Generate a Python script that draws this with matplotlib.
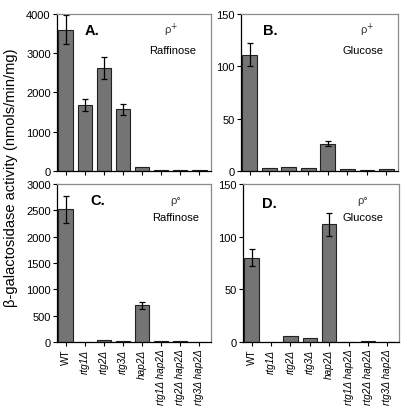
import matplotlib
matplotlib.use("Agg")
import matplotlib.pyplot as plt
import numpy as np

plt.rcParams['font.family'] = ['Liberation Sans', 'DejaVu Sans']

strains = ["WT", "rtg1Δ", "rtg2Δ", "rtg3Δ", "hap2Δ", "rtg1Δ hap2Δ", "rtg2Δ hap2Δ", "rtg3Δ hap2Δ"]

a_vals = [3600, 1680, 2630, 1570, 100, 10, 10, 10]
a_err = [370, 150, 280, 140, 0, 0, 0, 0]
b_vals = [111, 3, 4, 3, 26, 2, 0.6, 1.5]
b_err = [11, 0, 0, 0, 2.5, 0, 0, 0]
c_vals = [2520, 5, 40, 20, 700, 20, 20, 10]
c_err = [250, 0, 0, 0, 70, 0, 0, 0]
d_vals = [80, 0.6, 6, 4, 112, 0.6, 1.2, 0.6]
d_err = [8, 0, 0, 0, 11, 0, 0, 0]

panels = [
    dict(vals=a_vals, err=a_err, ymax=4000, yticks=[0, 1000, 2000, 3000, 4000], letter="A.", rho="ρ$^{+}$", sugar="Raffinose",
         rect=[0.140, 0.585, 0.378, 0.379], lpos=(0.18, 0.90), rpos=(0.74, 0.90), spos=(0.75, 0.77), xl=False),
    dict(vals=b_vals, err=b_err, ymax=150, yticks=[0, 50, 100, 150], letter="B.", rho="ρ$^{+}$", sugar="Glucose",
         rect=[0.592, 0.585, 0.386, 0.379], lpos=(0.14, 0.90), rpos=(0.80, 0.90), spos=(0.78, 0.77), xl=False),
    dict(vals=c_vals, err=c_err, ymax=3000, yticks=[0, 500, 1000, 1500, 2000, 2500, 3000], letter="C.", rho="ρ°", sugar="Raffinose",
         rect=[0.140, 0.171, 0.378, 0.382], lpos=(0.22, 0.90), rpos=(0.77, 0.90), spos=(0.77, 0.79), xl=True),
    dict(vals=d_vals, err=d_err, ymax=150, yticks=[0, 50, 100, 150], letter="D.", rho="ρ°", sugar="Glucose",
         rect=[0.597, 0.171, 0.383, 0.382], lpos=(0.12, 0.88), rpos=(0.77, 0.90), spos=(0.77, 0.79), xl=True),
]

fig = plt.figure(figsize=(4.07, 4.14), dpi=100)
x = np.arange(len(strains))
for p in panels:
    ax = fig.add_axes(p["rect"])
    err = np.array(p["err"], dtype=float)
    ax.bar(x, p["vals"], width=0.75, color="#747474", edgecolor="#222222", linewidth=0.8)
    idx = err > 0
    ax.errorbar(x[idx], np.array(p["vals"])[idx], yerr=err[idx], fmt="none", ecolor="black",
                elinewidth=0.9, capsize=2.5, capthick=0.9)
    ax.set_xlim(-0.45, 7.6)
    ax.set_ylim(0, p["ymax"])
    ax.set_yticks(p["yticks"])
    ax.set_xticks(x)
    ax.tick_params(axis="both", direction="out", length=3, width=0.8, labelsize=8, pad=1.5)
    for s in ["top", "right"]:
        ax.spines[s].set_color("#8a8a8a")
        ax.spines[s].set_linewidth(0.9)
    for s in ["left", "bottom"]:
        ax.spines[s].set_linewidth(0.9)
    if p["xl"]:
        ax.set_xticklabels(strains, rotation=90, fontsize=7.2)
        for i, t in enumerate(ax.get_xticklabels()):
            if i > 0:
                t.set_style("italic")
    else:
        ax.set_xticklabels([])
    ax.text(p["lpos"][0], p["lpos"][1], p["letter"], transform=ax.transAxes, fontsize=10.5,
            fontweight="bold", ha="left", va="center")
    ax.text(p["rpos"][0], p["rpos"][1], p["rho"], transform=ax.transAxes, fontsize=8,
            ha="center", va="center", color="#333333")
    ax.text(p["spos"][0], p["spos"][1], p["sugar"], transform=ax.transAxes, fontsize=8,
            ha="center", va="center")

fig.text(0.028, 0.57, "β-galactosidase activity (nmols/min/mg)", rotation=90, fontsize=10.5,
         ha="center", va="center")

fig.savefig("out.png", dpi=100)
